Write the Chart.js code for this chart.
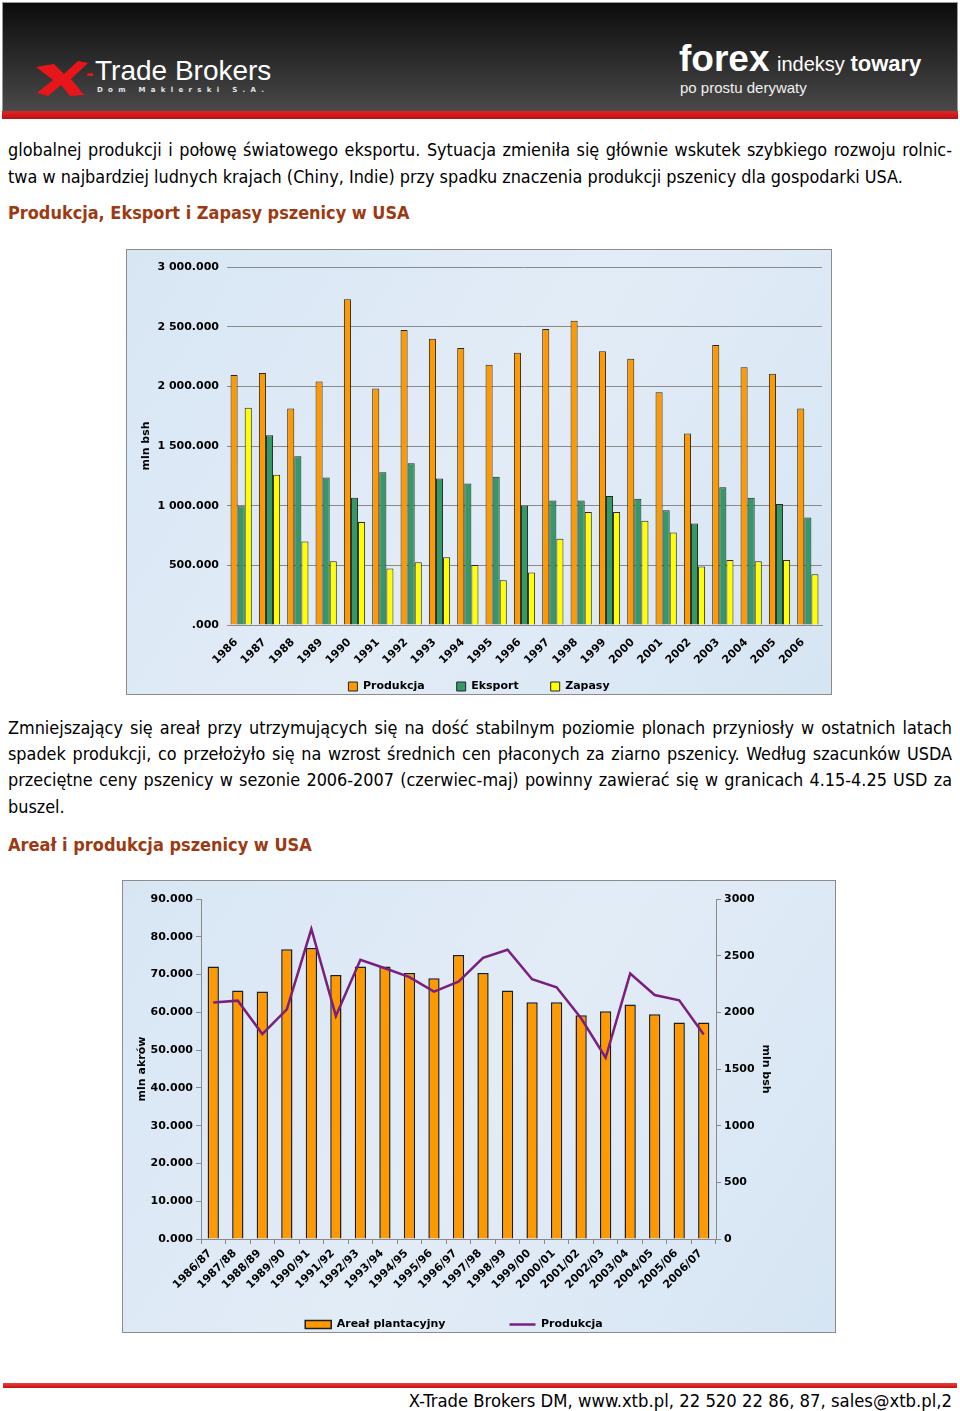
<!DOCTYPE html>
<html>
<head>
<meta charset="utf-8">
<script src="https://cdn.jsdelivr.net/npm/chart.js@4.4.1/dist/chart.umd.min.js"></script>
<style>
  body { margin: 0; width: 960px; height: 1411px; background: #fff; position: relative; overflow: hidden; }
  .abs { position: absolute; }
  #hdr { left: 2px; top: 2px; width: 954px; height: 109px; background: linear-gradient(#0c0c0c, #2a2a2a 50%, #4a4a4a); border: 1px solid #9a9a9a; border-bottom: none; }
  #red { left: 2px; top: 111px; width: 956px; height: 8px; background: linear-gradient(#e42525, #b81212); }
  .tb { left: 95px; top: 55px; font: 28px "Liberation Sans", Arial, sans-serif; color: #fff; }
  .dash { left: 86px; top: 60px; font: bold 22px "Liberation Sans", sans-serif; color: #e8161a; }
  .dm { left: 97px; top: 86px; font: bold 7px "DejaVu Sans", sans-serif; color: #e6e6e6; letter-spacing: 5.3px; }
  .fx { left: 679px; top: 38px; font: bold 37px "Liberation Sans Narrow", "Liberation Sans", sans-serif; color: #fff; white-space: nowrap; }
  .fx .i { font-weight: normal; font-size: 20px; margin-left: 2px; }
  .fx .t { font-size: 22px; }
  .pp { left: 680px; top: 79px; font: 15px "Liberation Sans Narrow", "Liberation Sans", sans-serif; color: #f0f0f0; }
  .txt { left: 8px; width: 944px; font-family: "DejaVu Sans Condensed", "DejaVu Sans", sans-serif; font-size: 16px; line-height: 26px; color: #000; white-space: nowrap; }
  .j { text-align: justify; text-align-last: justify; white-space: normal; }
  .h { font-weight: bold; color: #9c3a12; }
  #foot { left: 3px; top: 1383px; width: 954px; height: 5px; background: linear-gradient(#f04040, #c01010); }
  .ft { right: 8px; top: 1388px; font-family: "DejaVu Sans Condensed", "DejaVu Sans", sans-serif; font-size: 16px; line-height: 26px; white-space: nowrap; }
  canvas { position: absolute; }
</style>
</head>
<body>
<div id="hdr" class="abs"></div>
<div id="red" class="abs"></div>
<svg class="abs" style="left:34px;top:58px" width="58" height="40" viewBox="0 0 58 40">
  <path d="M2 9 L20 6 L30 16 L44 3 L54 5 L37 21 L50 37 L36 38 L27 27 L14 38 L3 35 L19 22 Z" fill="#e8161a"/>
</svg>
<div class="abs dash">-</div>
<div class="abs tb">Trade Brokers</div>
<div class="abs dm">Dom Maklerski S.A.</div>
<div class="abs fx">forex<span class="i"> indeksy </span><span class="t">towary</span></div>
<div class="abs pp">po prostu derywaty</div>

<div class="abs txt j" style="top:137px">globalnej produkcji i połowę światowego eksportu. Sytuacja zmieniła się głównie wskutek szybkiego rozwoju rolnic-</div>
<div class="abs txt" style="top:164px"><span id="ref1">twa w najbardziej ludnych krajach (Chiny, Indie) przy spadku znaczenia produkcji pszenicy dla gospodarki USA.</span></div>
<div class="abs txt h" style="top:200px"><span id="ref2">Produkcja, Eksport i Zapasy pszenicy w USA</span></div>

<canvas id="c1" width="706" height="446" style="left:126px;top:249px"></canvas>

<div class="abs txt j" style="top:715px">Zmniejszający się areał przy utrzymujących się na dość stabilnym poziomie plonach przyniosły w ostatnich latach</div>
<div class="abs txt j" style="top:741px">spadek produkcji, co przełożyło się na wzrost średnich cen płaconych za ziarno pszenicy. Według szacunków USDA</div>
<div class="abs txt j" style="top:767px">przeciętne ceny pszenicy w sezonie 2006-2007 (czerwiec-maj) powinny zawierać się w granicach 4.15-4.25 USD za</div>
<div class="abs txt" style="top:794px">buszel.</div>
<div class="abs txt h" style="top:832px"><span id="ref3">Areał i produkcja pszenicy w USA</span></div>

<canvas id="c2" width="714" height="453" style="left:122px;top:880px"></canvas>

<div id="foot" class="abs"></div>
<div class="abs ft"><span id="ref4">X-Trade Brokers DM, www.xtb.pl, 22 520 22 86, 87, sales@xtb.pl,2</span></div>

<script>
// wykres 1: produkcja, eksport, zapasy (mln bsh)
const years = ['1986','1987','1988','1989','1990','1991','1992','1993','1994','1995','1996',
  '1997','1998','1999','2000','2001','2002','2003','2004','2005','2006'];
const produkcja = [2094, 2111, 1815, 2041, 2729, 1982, 2472, 2399, 2321, 2181, 2282,
  2480, 2550, 2295, 2231, 1951, 1605, 2346, 2159, 2106, 1815];
const eksport = [995, 1590, 1414, 1237, 1066, 1281, 1355, 1228, 1186, 1242, 1002,
  1044, 1044, 1082, 1057, 962, 851, 1155, 1066, 1013, 901];
const zapasy = [1820, 1260, 700, 534, 864, 473, 526, 568, 503, 375, 440,
  722, 946, 946, 873, 775, 490, 545, 534, 545, 425];
const yTicks1 = ['.000', '500.000', '1 000.000', '1 500.000', '2 000.000', '2 500.000', '3 000.000'];

// wykres 2: areał (mln akrów) i produkcja (mln bsh)
const seasons = ['1986/87','1987/88','1988/89','1989/90','1990/91','1991/92','1992/93','1993/94',
  '1994/95','1995/96','1996/97','1997/98','1998/99','1999/00','2000/01','2001/02','2002/03',
  '2003/04','2004/05','2005/06','2006/07'];
const areal = [72.1, 65.8, 65.5, 76.7, 77.0, 69.9, 72.1, 72.1, 70.4, 69.0, 75.2,
  70.4, 65.8, 62.7, 62.7, 59.2, 60.3, 62.1, 59.5, 57.3, 57.3];
const produkcjaSezon = [2086, 2103, 1808, 2027, 2735, 1968, 2463, 2389, 2310, 2183, 2271,
  2481, 2552, 2292, 2221, 1947, 1599, 2342, 2153, 2106, 1805];
const leftTicks2 = ['0.000','10.000','20.000','30.000','40.000','50.000','60.000','70.000','80.000','90.000'];
const rightTicks2 = ['0','500','1000','1500','2000','2500','3000'];

// dopasowanie rozmiaru tekstu do szerokosci z oryginalu
function fit(id, target) {
  const el = document.getElementById(id);
  const box = el.parentElement;
  const fs = parseFloat(getComputedStyle(box).fontSize);
  const size = fs * target / el.getBoundingClientRect().width;
  box.style.fontSize = size + 'px';
  return size;
}
const bodySize = fit('ref1', 895);
document.querySelectorAll('.txt').forEach(d => { if (!d.classList.contains('h')) d.style.fontSize = bodySize + 'px'; });
fit('ref2', 402);
fit('ref3', 304);
fit('ref4', 544);

Chart.defaults.font.family = '"DejaVu Sans", Verdana, sans-serif';
Chart.defaults.font.size = 11;
Chart.defaults.font.weight = 'bold';
Chart.defaults.color = '#000';

const panelBg = {
  id: 'panelBg',
  beforeDraw(chart) {
    const { ctx, width, height } = chart;
    ctx.save();
    const g = ctx.createLinearGradient(0, 0, width, height);
    g.addColorStop(0, '#d8e6f4');
    g.addColorStop(0.5, '#e2ecf7');
    g.addColorStop(1, '#d6e5f3');
    ctx.fillStyle = g;
    ctx.fillRect(0, 0, width, height);
    ctx.strokeStyle = '#8c8c8c';
    ctx.lineWidth = 1;
    ctx.strokeRect(0.5, 0.5, width - 1, height - 1);
    ctx.restore();
  }
};

// wieksze odstepy miedzy pozycjami legendy (bez powiekszania jej wysokosci)
function spacedLabels(gap, reverse) {
  return chart => {
    const items = Chart.defaults.plugins.legend.labels.generateLabels(chart);
    if (reverse) items.reverse();
    items.forEach((it, i) => { if (i < items.length - 1) it.text += gap; });
    return items;
  };
}

new Chart(document.getElementById('c1'), {
  type: 'bar',
  data: {
    labels: years,
    datasets: [
      { label: 'Produkcja', data: produkcja, backgroundColor: '#ff9900', borderColor: '#262626', borderWidth: 1 },
      { label: 'Eksport', data: eksport, backgroundColor: '#339966', borderColor: '#262626', borderWidth: 1 },
      { label: 'Zapasy', data: zapasy, backgroundColor: '#ffff00', borderColor: '#262626', borderWidth: 1 }
    ]
  },
  options: {
    responsive: false,
    animation: false,
    devicePixelRatio: 1,
    layout: { padding: { left: 10, right: 10, top: 18, bottom: -7 } },
    datasets: { bar: { categoryPercentage: 0.75, barPercentage: 1 } },
    plugins: {
      tooltip: { enabled: false },
      legend: {
        position: 'bottom',
        labels: { boxWidth: 9, boxHeight: 9, padding: 10, generateLabels: spacedLabels('\u2003\u2003', false) }
      }
    },
    scales: {
      x: {
        grid: { display: false },
        border: { color: '#8a8a8a' },
        ticks: { autoSkip: false, minRotation: 45, maxRotation: 45, padding: 3, labelOffset: -5 },
        afterFit(s) { s.height = 46; }
      },
      y: {
        min: 0, max: 3000,
        ticks: { stepSize: 500, padding: 8, callback: v => yTicks1[Math.round(v / 500)] },
        grid: { color: '#8a8a8a', drawTicks: false },
        border: { display: false },
        title: { display: true, text: 'mln bsh', padding: { top: 4, bottom: 4 } },
        afterFit(s) { s.width = 91; }
      }
    }
  },
  plugins: [panelBg]
});

new Chart(document.getElementById('c2'), {
  type: 'bar',
  data: {
    labels: seasons,
    datasets: [
      { type: 'line', label: 'Produkcja', data: produkcjaSezon, yAxisID: 'y1', borderColor: '#7a1f7e',
        backgroundColor: '#7a1f7e', borderWidth: 2.5, pointRadius: 0, pointStyle: 'line', tension: 0, order: 0 },
      { label: 'Areał plantacyjny', data: areal, yAxisID: 'y', backgroundColor: '#ff9900',
        borderColor: '#1e1e1e', borderWidth: 1.5, pointStyle: 'rect', order: 1,
        categoryPercentage: 1, barPercentage: 0.46 }
    ]
  },
  options: {
    responsive: false,
    animation: false,
    devicePixelRatio: 1,
    layout: { padding: { left: 10, right: 60, top: 19, bottom: -7 } },
    plugins: {
      tooltip: { enabled: false },
      legend: {
        position: 'bottom',
        labels: { usePointStyle: true, pointStyleWidth: 26, boxHeight: 8, padding: 20,
          generateLabels: spacedLabels('\u2003\u2003\u2003\u2003', true) }
      }
    },
    scales: {
      x: {
        grid: { display: true, drawOnChartArea: false, tickLength: 5, color: '#8a8a8a' },
        border: { color: '#8a8a8a' },
        ticks: { autoSkip: false, minRotation: 45, maxRotation: 45, padding: 3, labelOffset: -3 },
        afterFit(s) { s.height = 60; }
      },
      y: {
        position: 'left',
        min: 0, max: 90,
        ticks: { stepSize: 10, padding: 3, callback: v => leftTicks2[Math.round(v / 10)] },
        grid: { drawOnChartArea: false, tickLength: 5, color: '#8a8a8a' },
        border: { color: '#8a8a8a' },
        title: { display: true, text: 'mln akrów', padding: { top: 4, bottom: 4 } },
        afterFit(s) { s.width = 69; }
      },
      y1: {
        position: 'right',
        min: 0, max: 3000,
        ticks: { stepSize: 500, padding: 3, callback: v => rightTicks2[Math.round(v / 500)] },
        grid: { drawOnChartArea: false, tickLength: 5, color: '#8a8a8a' },
        border: { color: '#8a8a8a' },
        title: { display: true, text: 'mln bsh', padding: { top: 4, bottom: 4 } },
        afterFit(s) { s.width = 60; }
      }
    }
  },
  plugins: [panelBg]
});
</script>
</body>
</html>
